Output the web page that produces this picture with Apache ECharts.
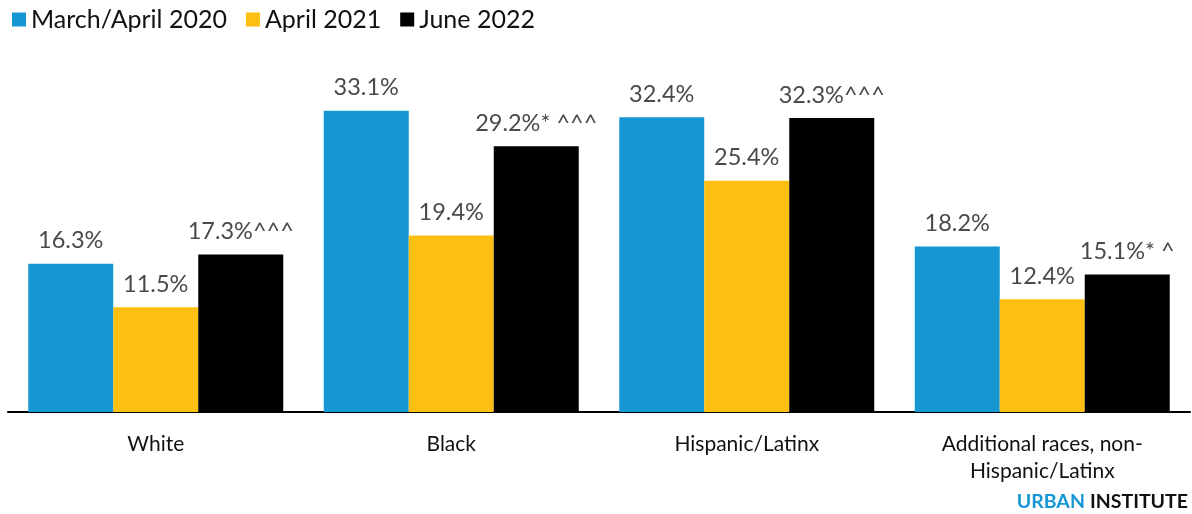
<!DOCTYPE html>
<html>
<head>
<meta charset="utf-8">
<script src="https://cdn.jsdelivr.net/npm/echarts@6/dist/echarts.min.js"></script>
<style>
  html, body { margin: 0; padding: 0; background: #fff; }
  #chart { width: 1192px; height: 514px; }
</style>
</head>
<body>
<div id="chart"></div>
<script>
const categories = ['White', 'Black', 'Hispanic/Latinx', 'Additional races, non-\nHispanic/Latinx'];
const seriesNames = ['March/April 2020', 'April 2021', 'June 2022'];
const values2020 = [16.3, 33.1, 32.4, 18.2];
const values2021 = [11.5, 19.4, 25.4, 12.4];
const values2022 = [17.3, 29.2, 32.3, 15.1];
// significance markers shown after the value
const marks2020 = ['', '', '', ''];
const marks2021 = ['', '', '', ''];
const marks2022 = ['^^^', '* ^^^', '^^^', '* ^'];

const colors = ['#1696d2', '#fdbf11', '#000000'];
const font = 'Lato, "Open Sans", sans-serif';

function makeSeries(name, data, marks, color) {
    return {
        name: name,
        type: 'bar',
        data: data,
        barWidth: 85,
        barGap: '0%',
        itemStyle: { color: color },
        label: {
            show: true,
            position: 'top',
            distance: 11,
            fontFamily: font,
            fontSize: 23.5,
            color: '#4a4a4a',
            formatter: function (p) {
                return p.value.toFixed(1) + '%' + marks[p.dataIndex];
            }
        }
    };
}

const chart = echarts.init(document.getElementById('chart'));
chart.setOption({
    animation: false,
    color: colors,
    legend: {
        left: 7,
        top: 2,
        itemWidth: 14,
        itemHeight: 14,
        itemGap: 19,
        icon: 'rect',
        textStyle: { fontFamily: font, fontSize: 25, color: '#111' },
        data: seriesNames
    },
    title: {
        right: 4,
        bottom: 2,
        padding: 0,
        text: '{a|URBAN} {b|INSTITUTE}',
        textStyle: {
            rich: {
                a: { fontFamily: font, fontSize: 19.5, fontWeight: 'bold', color: '#1696d2' },
                b: { fontFamily: font, fontSize: 19.5, fontWeight: 'bold', color: '#111' }
            }
        }
    },
    grid: {
        left: 8,
        right: 2,
        top: 48,
        bottom: 102
    },
    xAxis: {
        type: 'category',
        data: categories,
        axisLine: { lineStyle: { color: '#000', width: 2 } },
        axisTick: { show: false },
        axisLabel: {
            fontFamily: font,
            fontSize: 21,
            color: '#111',
            margin: 19,
            lineHeight: 27,
            interval: 0
        }
    },
    yAxis: {
        type: 'value',
        min: 0,
        max: 40,
        show: false
    },
    series: [
        makeSeries(seriesNames[0], values2020, marks2020, colors[0]),
        makeSeries(seriesNames[1], values2021, marks2021, colors[1]),
        makeSeries(seriesNames[2], values2022, marks2022, colors[2])
    ]
});
</script>
</body>
</html>
